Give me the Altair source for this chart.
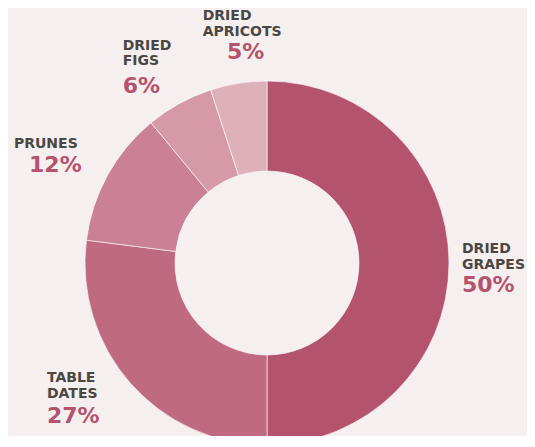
import altair as alt
import pandas as pd

categories = ["Dried grapes", "Table dates", "Prunes", "Dried figs", "Dried apricots"]
shares = [50, 27, 12, 6, 5]
name_labels = ["DRIED\nGRAPES", "TABLE\nDATES", "PRUNES", "DRIED\nFIGS", "DRIED\nAPRICOTS"]
pct_labels = ["50%", "27%", "12%", "6%", "5%"]
slice_colors = ["#b4536d", "#c06a82", "#ca8195", "#d599a8", "#ddb0ba"]

df = pd.DataFrame({
    "cat": categories,
    "share": shares,
    "name": name_labels,
    "pct": pct_labels,
    "rank": list(range(len(categories))),
})

BG = "#f5eff0"
CX, CY = 259, 255

name_style = {
    "Dried grapes": dict(align="left", dx=-5, dy=-10),
    "Table dates": dict(align="left", dx=-70, dy=-13),
    "Prunes": dict(align="right", dx=-14, dy=-19),
    "Dried figs": dict(align="left", dx=-48, dy=-38),
    "Dried apricots": dict(align="left", dx=-33, dy=-45),
}
pct_style = {
    "Dried grapes": dict(align="left", dx=-5, dy=29),
    "Table dates": dict(align="left", dx=-70, dy=28),
    "Prunes": dict(align="right", dx=-10, dy=5),
    "Dried figs": dict(align="left", dx=-48, dy=5),
    "Dried apricots": dict(align="center", dx=10, dy=-6),
}

theta = alt.Theta("share:Q", stack=True)
order = alt.Order("rank:Q")

arcs = alt.Chart(df).mark_arc(
    innerRadius=92, outerRadius=182, stroke="#ffffff", strokeWidth=0.6
).encode(
    x=alt.value(CX), y=alt.value(CY),
    theta=theta,
    order=order,
    color=alt.Color("cat:N", scale=alt.Scale(domain=categories, range=slice_colors), legend=None),
)

layers = [arcs]
for c in categories:
    layers.append(
        alt.Chart(df).mark_text(
            radius=200, baseline="alphabetic", lineBreak="\n", lineHeight=15.5,
            font="DejaVu Sans", fontWeight="bold", fontSize=14, color="#4a4743",
            **name_style[c]
        ).encode(
            x=alt.value(CX), y=alt.value(CY), theta=theta, order=order, detail="cat:N",
            text=alt.condition(alt.datum.cat == c, alt.Text("name:N"), alt.value("")),
        )
    )
    layers.append(
        alt.Chart(df).mark_text(
            radius=200, baseline="alphabetic",
            font="DejaVu Sans", fontWeight="bold", fontSize=22, color="#b4536d",
            **pct_style[c]
        ).encode(
            x=alt.value(CX), y=alt.value(CY), theta=theta, order=order, detail="cat:N",
            text=alt.condition(alt.datum.cat == c, alt.Text("pct:N"), alt.value("")),
        )
    )

chart = alt.layer(*layers).properties(
    width=519, height=428, background=BG, padding=0,
    autosize=alt.AutoSizeParams(type="none"),
).configure_view(stroke=None)

chart.save("out.html", embed_options={"renderer": "svg", "actions": False})
